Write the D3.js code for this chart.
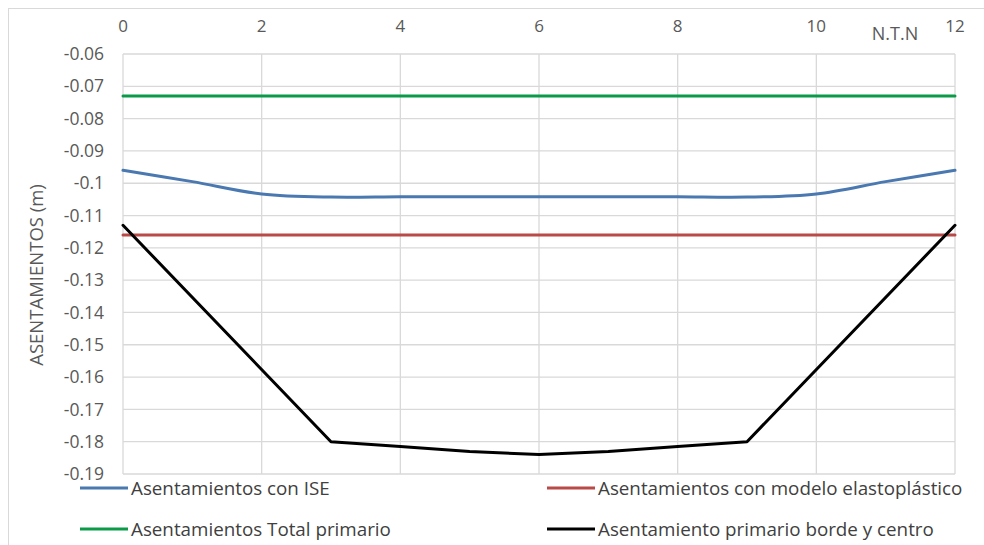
<!DOCTYPE html>
<html><head><meta charset="utf-8">
<script src="https://cdn.jsdelivr.net/npm/d3@7"></script>
<style>body{margin:0;background:#fff;} text{font-family:"Open Sans",sans-serif;}</style>
</head><body>
<svg id="c" width="984" height="545"></svg>
<script>
const xTicks = [0,2,4,6,8,10,12];
const yTicks = [-0.06,-0.07,-0.08,-0.09,-0.1,-0.11,-0.12,-0.13,-0.14,-0.15,-0.16,-0.17,-0.18,-0.19];
const iseX = [0,1,2,3,4,5,6,7,8,9,10,11,12];
const iseY = [-0.096,-0.0995,-0.1033,-0.1043,-0.1042,-0.1042,-0.1042,-0.1042,-0.1042,-0.1043,-0.1033,-0.0995,-0.096];
const elastoX = [0,12];
const elastoY = [-0.116,-0.116];
const totalX = [0,12];
const totalY = [-0.073,-0.073];
const bordeX = [0,3,4,5,6,7,8,9,12];
const bordeY = [-0.113,-0.180,-0.1815,-0.183,-0.184,-0.183,-0.1815,-0.180,-0.113];
const seriesNames = ["Asentamientos con ISE","Asentamientos con modelo elastoplástico","Asentamientos Total primario","Asentamiento primario borde y centro"];
const colors = ["#4a78b0","#b84a48","#0a9a48","#000000"];

const svg = d3.select("#c");
svg.append("rect").attr("x",8.5).attr("y",8.5).attr("width",1000).attr("height",560)
  .attr("fill","#fff").attr("stroke","#d9d9d9");

const x = d3.scaleLinear().domain([0,12]).range([123,955]);
const y = d3.scaleLinear().domain([-0.06,-0.19]).range([54,474]);

const g = svg.append("g");
g.selectAll(".hg").data(yTicks).join("line")
  .attr("x1",x(0)).attr("x2",x(12)).attr("y1",d=>y(d)).attr("y2",d=>y(d))
  .attr("stroke","#d9d9d9").attr("stroke-width",1.3);
g.selectAll(".vg").data(xTicks).join("line")
  .attr("y1",y(-0.06)).attr("y2",y(-0.19)).attr("x1",d=>x(d)).attr("x2",d=>x(d))
  .attr("stroke","#d9d9d9").attr("stroke-width",1.3);

g.selectAll(".yl").data(yTicks).join("text")
  .attr("x",104).attr("y",d=>y(d)).attr("dy","0.35em").attr("text-anchor","end")
  .attr("font-size",17.5).attr("fill","#595959").text(d=>String(+d.toFixed(2)));
g.selectAll(".xl").data(xTicks).join("text")
  .attr("x",d=>x(d)).attr("y",26).attr("dy","0.35em").attr("text-anchor","middle")
  .attr("font-size",17).attr("fill","#595959").text(d=>d);
svg.append("text").attr("x",895).attr("y",34).attr("dy","0.35em").attr("text-anchor","middle")
  .attr("font-size",18).attr("fill","#595959").text("N.T.N");
svg.append("text").attr("transform","translate(37,275) rotate(-90)").attr("text-anchor","middle")
  .attr("dy","0.35em").attr("font-size",18.5).attr("fill","#595959").text("ASENTAMIENTOS (m)");

const data = [
  {xs:iseX, ys:iseY, curve:d3.curveCatmullRom},
  {xs:elastoX, ys:elastoY, curve:d3.curveLinear},
  {xs:totalX, ys:totalY, curve:d3.curveLinear},
  {xs:bordeX, ys:bordeY, curve:d3.curveLinear}
];
data.forEach((s,i)=>{
  const pts = s.xs.map((v,k)=>[v,s.ys[k]]);
  g.append("path").attr("d",d3.line().x(d=>x(d[0])).y(d=>y(d[1])).curve(s.curve)(pts))
    .attr("fill","none").attr("stroke",colors[i]).attr("stroke-width",3)
    .attr("stroke-linejoin","round").attr("stroke-linecap","round");
});

const legPos = [[80,488],[547,488],[80,529],[547,529]];
seriesNames.forEach((n,i)=>{
  const [lx,ly]=legPos[i];
  svg.append("line").attr("x1",lx).attr("x2",lx+48).attr("y1",ly).attr("y2",ly)
    .attr("stroke",colors[i]).attr("stroke-width",3);
  svg.append("text").attr("x",lx+51).attr("y",ly).attr("dy","0.35em")
    .attr("font-size",18.8).attr("fill","#404040").text(n);
});
</script>
</body></html>
